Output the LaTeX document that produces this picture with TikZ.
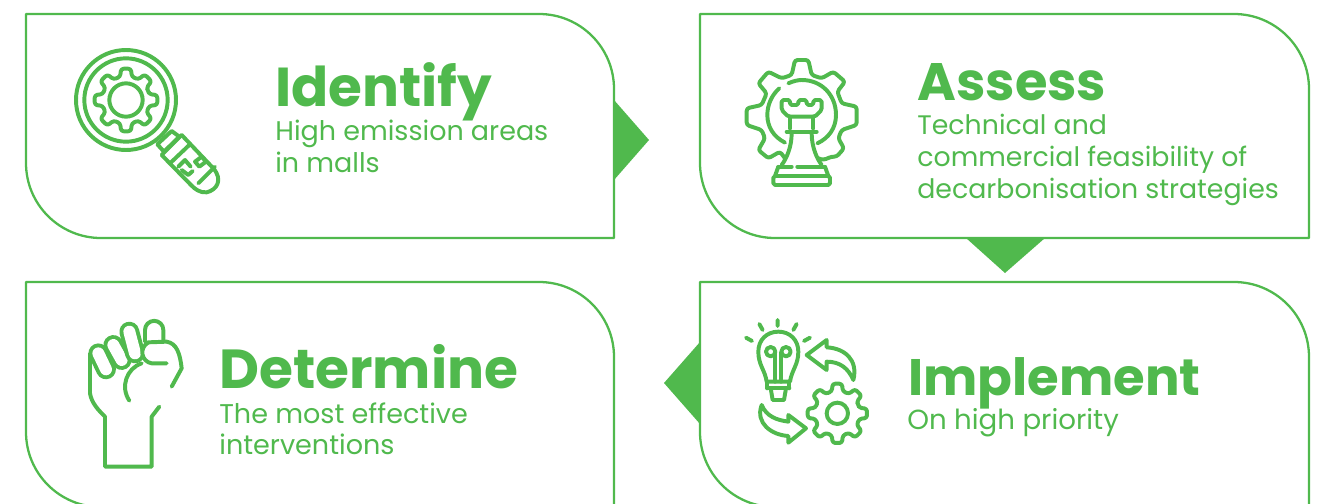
\documentclass[tikz,border=0pt]{standalone}
\usepackage{fontspec}
\setmainfont{Poppins}
\definecolor{leaf}{HTML}{50B94D}
\newcommand{\panel}[4]{%
	\draw[panelline] (#1,#2) -- (#3-75,#2) arc (90:0:75 and -75) -- (#3,#4) -- (#1+75,#4) arc (270:180:75 and -75) -- cycle;
}
\newcommand{\gearshape}[6]{% cx, cy, outer, root, teeth, half tooth angle
	\draw[iconline,rounded corners=1.5pt] ({#1+#4*cos(-360/#5/2)},{#2+#4*sin(-360/#5/2)})
	\foreach \k in {1,...,#5}{
		-- ({#1+#4*cos(360*(\k-1)/#5-#6-5)},{#2+#4*sin(360*(\k-1)/#5-#6-5)})
		-- ({#1+#3*cos(360*(\k-1)/#5-#6)},{#2+#3*sin(360*(\k-1)/#5-#6)})
		-- ({#1+#3*cos(360*(\k-1)/#5+#6)},{#2+#3*sin(360*(\k-1)/#5+#6)})
		-- ({#1+#4*cos(360*(\k-1)/#5+#6+5)},{#2+#4*sin(360*(\k-1)/#5+#6+5)})
	} -- cycle;
}
\newcommand{\knuckle}[2]{%
	\draw[leaf,line width=11.3pt] #1--#2;
	\draw[white,line width=6.8pt] #1--#2;
}
\tikzset{
	panelline/.style={leaf,line width=1.3pt},
	iconline/.style={leaf,line width=2.25pt},
	pointer/.style={fill=leaf,draw=none},
	headtext/.style={leaf,anchor=base west,font=\fontsize{#1}{33}\selectfont\bfseries,inner sep=0pt},
	bodytext/.style={leaf,anchor=north west,align=left,font=\fontsize{#1}{18.1}\selectfont,inner sep=0pt},
}
\begin{document}
\begin{tikzpicture}[x=0.02cm,y=-0.02cm,line join=round,line cap=round]
	\useasboundingbox (0,0) rectangle (1326,504);
	\clip (0,0) rectangle (1326,504);
	% pointers
	\fill[pointer] (614,100)--(649,140)--(614,180)--cycle;
	\fill[pointer] (966,238)--(1045,238)--(1005,273)--cycle;
	\fill[pointer] (700,342)--(664,383)--(700,424)--cycle;
	% panels
	\panel{26}{14}{614}{238}
	\panel{700}{14}{1309}{238}
	\panel{26}{282}{614}{507}
	\panel{700}{282}{1309}{507}
	% texts
	\node[headtext=31.2] (identify) at (275,106) {Identify};
	\node[bodytext=15.35] (identifytext) at (275,120) {High emission areas\\in malls};
	\node[headtext=30] (assess) at (917,100) {Assess};
	\node[bodytext=15.25] (assesstext) at (917,114) {Technical and\\commercial feasibility of\\decarbonisation strategies};
	\node[headtext=31.3] (determine) at (219,388) {Determine};
	\node[bodytext=15.4] (determinetext) at (219,402) {The most effective\\interventions};
	\node[headtext=29.2] (implement) at (908,395) {Implement};
	\node[bodytext=15.75] (implementtext) at (907,408) {On high priority};
	% magnifier
	\begin{scope}[shift={(60,35)},scale=1/3]
		\draw[iconline] (198,195) circle (150);
		\draw[iconline] (198,195) circle (125);
		\draw[iconline] (198,195) circle (50);
		\gearshape{198}{195}{95}{72}{8}{9}
		\draw[iconline] (335,288)--(292,328)--(312,350)--(358,305)--cycle;
		\draw[iconline] (365,300)--(305,360);
		\draw[iconline] (365,300)--(460,400) .. controls (490,435) and (470,465) .. (440,472) .. controls (420,474) and (405,462) .. (395,452)--(305,360);
		\draw[iconline] (330,385)--(390,328);
		\draw[iconline] (355,395)--(375,375)--(392,395) (365,405)--(385,420)--(398,408);
		\draw[iconline] (405,380)--(425,365)--(438,380)--(418,395)--cycle;
		\draw[iconline] (415,445)--(465,395);
	\end{scope}
	% rook and gear
	\begin{scope}[shift={(730,50)},scale=1/3]
		\draw[iconline,rounded corners=1.5pt] (265,325)--(280,330)--(305,320)--(320,320)--(342,295)--(325,265)--(335,240)--(380,225)--(380,170)--(335,160)--(322,125)--(345,95)--(310,65)--(275,85)--(245,75)--(235,30)--(195,30)--(185,75)--(155,85)--(115,65)--(85,100)--(110,130)--(95,165)--(50,175)--(50,225)--(95,240)--(105,265)--(85,300)--(115,325)--(150,305)--(165,325);
		\draw[iconline] (175,100) .. controls (190,93) and (205,90) .. (215,90) .. controls (275,90) and (318,135) .. (318,195) .. controls (318,235) and (295,265) .. (262,280);
		\draw[iconline] (148,115) .. controls (125,135) and (112,165) .. (112,195) .. controls (112,230) and (130,260) .. (165,278);
		\draw[iconline,rounded corners=1pt] (155,150)--(180,150)--(180,165)--(205,165)--(205,150)--(230,150)--(230,165)--(250,165)--(250,150)--(275,150)--(275,180)--(255,200)--(175,200)--(155,180)--cycle;
		\draw[iconline] (180,200)--(180,235) (250,200)--(250,235) (170,245)--(260,245);
		\draw[iconline] (185,250) .. controls (185,290) and (170,325) .. (155,345);
		\draw[iconline] (245,250) .. controls (245,290) and (260,325) .. (275,345);
		\draw[iconline] (145,350)--(185,350) (202,350)--(285,350);
		\draw[iconline] (145,350)--(135,378) (285,350)--(295,378);
		\draw[iconline,rounded corners=1pt] (130,378) rectangle (300,405);
	\end{scope}
	% bulb, arrows and gear
	\begin{scope}[shift={(730,310)},scale=1/3]
		\draw[iconline] (110,215) .. controls (105,180) and (85,165) .. (85,125) .. controls (85,90) and (110,65) .. (145,65) .. controls (180,65) and (205,90) .. (205,125) .. controls (205,165) and (185,180) .. (180,215)--cycle;
		\draw[iconline] (122,125) circle (14) (168,125) circle (14);
		\draw[iconline] (136,128)--(136,215) (154,128)--(154,215);
		\draw[iconline] (112,235)--(178,235) (112,215)--(112,235) (178,215)--(178,235);
		\draw[iconline] (122,235)--(128,270)--(162,270)--(168,235);
		\draw[iconline] (143,30)--(143,48) (88,42)--(98,60) (200,42)--(190,60) (48,83)--(66,93) (240,83)--(222,93);
		\draw[iconline] (230,135)--(290,90)--(290,112) .. controls (345,115) and (385,150) .. (370,210) .. controls (355,175) and (330,155) .. (290,155)--(290,180)--cycle;
		\draw[iconline] (228,355)--(175,315)--(175,335) .. controls (140,330) and (110,320) .. (95,285) .. controls (75,340) and (125,375) .. (175,378)--(175,398)--cycle;
		\gearshape{322}{310}{90}{68}{8}{9}
		\draw[iconline] (322,310) circle (32);
	\end{scope}
	% fist
	\begin{scope}[shift={(70,310)},scale=1/3]
		\knuckle{(85,130)}{(108,178)}
		\knuckle{(130,105)}{(155,150)}
		\knuckle{(178,65)}{(195,130)}
		\draw[iconline] (225,95)--(225,60) arc (180:360:27.5 and 27.5)--(280,95);
		\draw[iconline,fill=white] (290,160)--(245,160) .. controls (215,155) and (205,115) .. (235,97)--(290,95) .. controls (320,100) and (330,130) .. (335,175)--(305,230);
		\draw[iconline] (215,160) .. controls (170,175) and (150,230) .. (178,272);
		\draw[iconline] (60,130)--(60,250) .. controls (65,280) and (85,300) .. (105,320)--(105,470)--(245,470)--(245,320)--(268,290);
	\end{scope}
\end{tikzpicture}
\end{document}
